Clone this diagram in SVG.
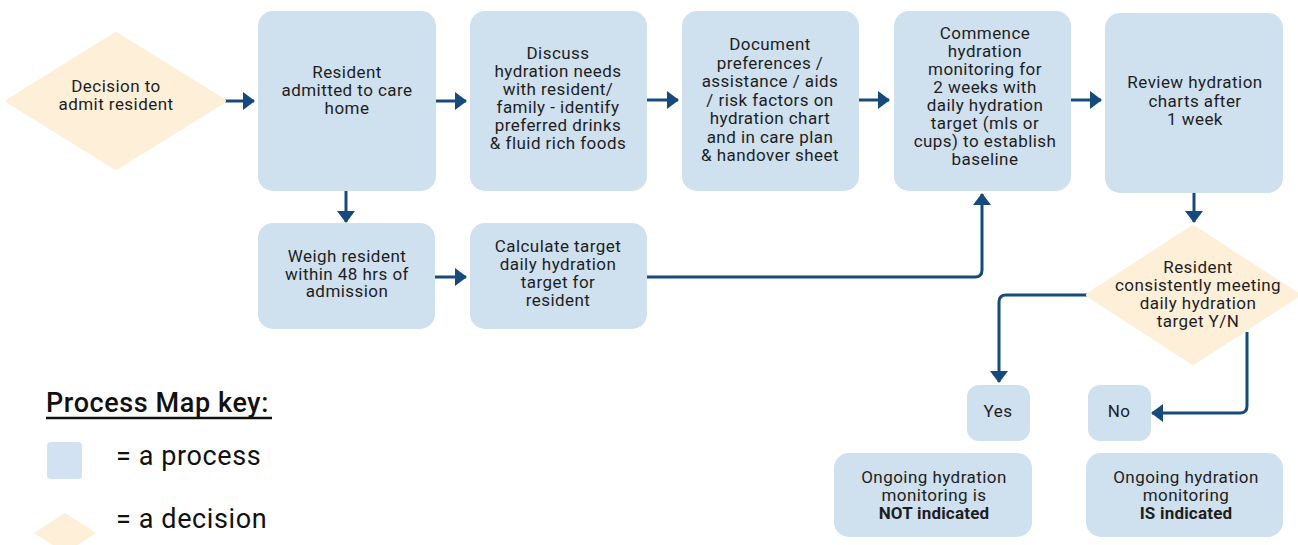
<svg xmlns="http://www.w3.org/2000/svg" width="1298" height="545" viewBox="0 0 1298 545">
<style>
.proc{fill:#cfe0ef;}
.dec{fill:#fdefd8;}
.t{font-family:Roboto,"Liberation Sans",sans-serif;font-size:17px;letter-spacing:0.45px;fill:#1e1e1e;text-anchor:middle;}
.b{font-weight:bold;letter-spacing:0.2px;}
.k{font-family:Roboto,"Liberation Sans",sans-serif;font-size:27px;letter-spacing:0.6px;fill:#111;}
.c{fill:none;stroke:#174a7c;stroke-width:3;}
</style>
<defs>
<marker id="ah" viewBox="0 0 12 18" refX="11" refY="9" markerWidth="12" markerHeight="18" markerUnits="userSpaceOnUse" orient="auto">
<path d="M0 0 L12 9 L0 18 Z" fill="#174a7c"/>
</marker>
</defs>
<rect width="1298" height="545" fill="#fff"/>
<g id="connectors">
<path class="c" d="M224 101 H254" marker-end="url(#ah)"/>
<path class="c" d="M436 101 H466" marker-end="url(#ah)"/>
<path class="c" d="M647 100 H678" marker-end="url(#ah)"/>
<path class="c" d="M859 100 H889" marker-end="url(#ah)"/>
<path class="c" d="M1071 100 H1101" marker-end="url(#ah)"/>
<path class="c" d="M346 191 V222" marker-end="url(#ah)"/>
<path class="c" d="M435 277 H466" marker-end="url(#ah)"/>
<path class="c" d="M647 277 H975 Q982 277 982 270 V194" marker-end="url(#ah)"/>
<path class="c" d="M1194 193 V222" marker-end="url(#ah)"/>
<path class="c" d="M1088 295 H1006 Q999 295 999 302 V382" marker-end="url(#ah)"/>
<path class="c" d="M1247 332 V406 Q1247 413 1240 413 H1152" marker-end="url(#ah)"/>
</g>
<g id="n-decision-admit">
<path class="dec" d="M116 34 L224 101 L116 168 L8 101 Z" stroke="#fdefd8" stroke-width="4" stroke-linejoin="round"/>
<text class="t" x="116" y="92">Decision to</text>
<text class="t" x="116" y="110">admit resident</text>
</g>
<g id="n-admitted">
<rect class="proc" x="258" y="11" width="178" height="180" rx="15"/>
<text class="t" x="347" y="78">Resident</text>
<text class="t" x="347" y="96">admitted to care</text>
<text class="t" x="347" y="114">home</text>
</g>
<g id="n-discuss">
<rect class="proc" x="470" y="11" width="177" height="180" rx="15"/>
<text class="t" x="558" y="59">Discuss</text>
<text class="t" x="558" y="77">hydration needs</text>
<text class="t" x="558" y="95">with resident/</text>
<text class="t" x="558" y="113">family - identify</text>
<text class="t" x="558" y="131">preferred drinks</text>
<text class="t" x="558" y="149">&amp; fluid rich foods</text>
</g>
<g id="n-document">
<rect class="proc" x="682" y="11" width="177" height="180" rx="15"/>
<text class="t" x="770" y="50">Document</text>
<text class="t" x="770" y="68.5">preferences /</text>
<text class="t" x="770" y="87">assistance / aids</text>
<text class="t" x="770" y="105.5">/ risk factors on</text>
<text class="t" x="770" y="124">hydration chart</text>
<text class="t" x="770" y="142.5">and in care plan</text>
<text class="t" x="770" y="161">&amp; handover sheet</text>
</g>
<g id="n-commence">
<rect class="proc" x="894" y="11" width="177" height="180" rx="15"/>
<text class="t" x="985" y="39">Commence</text>
<text class="t" x="985" y="57">hydration</text>
<text class="t" x="985" y="75">monitoring for</text>
<text class="t" x="985" y="93">2 weeks with</text>
<text class="t" x="985" y="111">daily hydration</text>
<text class="t" x="985" y="129">target (mls or</text>
<text class="t" x="985" y="147">cups) to establish</text>
<text class="t" x="985" y="165">baseline</text>
</g>
<g id="n-review">
<rect class="proc" x="1105" y="13" width="178" height="180" rx="15"/>
<text class="t" x="1195" y="88">Review hydration</text>
<text class="t" x="1195" y="106.5">charts after</text>
<text class="t" x="1195" y="125">1 week</text>
</g>
<g id="n-weigh">
<rect class="proc" x="258" y="223" width="177" height="106" rx="15"/>
<text class="t" x="347" y="262">Weigh resident</text>
<text class="t" x="347" y="279.5">within 48 hrs of</text>
<text class="t" x="347" y="297">admission</text>
</g>
<g id="n-calculate">
<rect class="proc" x="470" y="223" width="177" height="106" rx="15"/>
<text class="t" x="558" y="252">Calculate target</text>
<text class="t" x="558" y="270">daily hydration</text>
<text class="t" x="558" y="288">target for</text>
<text class="t" x="558" y="306">resident</text>
</g>
<g id="n-decision-meeting">
<path class="dec" d="M1193 227 L1298 295 L1193 363 L1088 295 Z" stroke="#fdefd8" stroke-width="4" stroke-linejoin="round"/>
<text class="t" x="1198" y="273">Resident</text>
<text class="t" x="1198" y="291">consistently meeting</text>
<text class="t" x="1198" y="309">daily hydration</text>
<text class="t" x="1198" y="327">target Y/N</text>
</g>
<g id="n-yes">
<rect class="proc" x="967" y="385" width="63" height="56" rx="12"/>
<text class="t" x="998" y="417">Yes</text>
</g>
<g id="n-no">
<rect class="proc" x="1088" y="385" width="63" height="56" rx="12"/>
<text class="t" x="1119" y="417">No</text>
</g>
<g id="n-not-indicated">
<rect class="proc" x="834" y="453" width="198" height="84" rx="15"/>
<text class="t" x="934" y="483">Ongoing hydration</text>
<text class="t" x="934" y="501">monitoring is</text>
<text class="t b" x="934" y="519">NOT indicated</text>
</g>
<g id="n-is-indicated">
<rect class="proc" x="1086" y="453" width="197" height="84" rx="15"/>
<text class="t" x="1186" y="483">Ongoing hydration</text>
<text class="t" x="1186" y="501">monitoring</text>
<text class="t b" x="1186" y="519">IS indicated</text>
</g>
<g id="key">
<text class="k" x="46" y="412" font-weight="500">Process Map key:</text>
<line x1="46" y1="418" x2="272" y2="418" stroke="#111" stroke-width="2.5"/>
<rect x="47" y="442" width="35" height="37" rx="4" fill="#d3e2f3"/>
<text class="k" x="116" y="465">= a process</text>
<path d="M65 513 L96 533 L65 553 L34 533 Z" fill="#fdefd8"/>
<text class="k" x="116" y="528">= a decision</text>
</g>
</svg>
